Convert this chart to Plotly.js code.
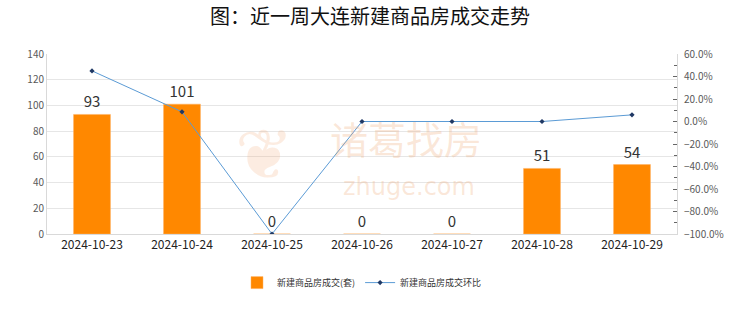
<!DOCTYPE html>
<html><head><meta charset="utf-8">
<script src="https://cdn.plot.ly/plotly-3.0.1.min.js"></script>
<style>html,body{margin:0;padding:0;background:#fff}#c{width:740px;height:312px}</style>
</head><body><div id="c"></div>
<script>
const categories = ['2024-10-23','2024-10-24','2024-10-25','2024-10-26','2024-10-27','2024-10-28','2024-10-29'];
const deals = [93, 101, 0, 0, 0, 51, 54];
const ratio = [0.45, 0.086, -1.0, 0, 0, 0, 0.059];
const barName = '新建商品房成交(套)';
const lineName = '新建商品房成交环比';
const titleText = '图：近一周大连新建商品房成交走势';

const font = 'Noto Sans CJK SC, Roboto, sans-serif';
const traces = [
  {type:'bar', x:categories, y:deals, name:barName, width:0.41,
   marker:{color:'#FF8800', line:{color:'#FFB060', width:0.5}},
   text:deals.map(String), textposition:'outside', cliponaxis:false,
   textfont:{size:15, color:'#333', family:font}},
  {type:'scatter', mode:'lines+markers', x:categories, y:ratio, yaxis:'y2', name:lineName,
   line:{color:'#5B9BD5', width:1}, marker:{symbol:'diamond', size:4, color:'#1F3864'}}
];
const wm = 'rgba(240,170,120,0.28)';
const layout = {
  width:740, height:312,
  margin:{l:47, r:63, t:54, b:78},
  paper_bgcolor:'#fff', plot_bgcolor:'#fff',
  font:{family:font, color:'#333'},
  title:{text:titleText, x:0.5, xanchor:'center', y:0.945, yanchor:'middle', font:{size:20, color:'#111', family:font}},
  xaxis:{type:'category', showgrid:false, showline:true, linecolor:'#d9d9d9', ticks:'', tickfont:{size:12, color:'#222'}},
  yaxis:{range:[0,140], dtick:20, showgrid:true, gridcolor:'#e6e6e6', showline:true, linecolor:'#d9d9d9',
         tickfont:{size:10, color:'#595959'}, zeroline:false, ticks:'', fixedrange:true},
  yaxis2:{overlaying:'y', side:'right', range:[-1,0.6], dtick:0.2, tickformat:'.1%', showgrid:false,
          showline:true, linecolor:'#d9d9d9', ticks:'inside', ticklen:4, tickcolor:'#666',
          minor:{ticks:'inside', ticklen:3, tickcolor:'#666', dtick:0.1},
          ticklabelstandoff:4,
          tickfont:{size:10, color:'#595959'}, zeroline:false},
  legend:{orientation:'h', x:0.5, xanchor:'center', y:-0.27, yanchor:'middle', font:{size:9, color:'#333'}},
  showlegend:true,
  annotations:[
    {xref:'paper', yref:'paper', x:0.57, y:0.535, xanchor:'center', yanchor:'middle', text:'诸葛找房', showarrow:false,
     font:{size:38, color:wm, family:font}},
    {xref:'paper', yref:'paper', x:0.575, y:0.26, xanchor:'center', yanchor:'middle', text:'zhuge.com', showarrow:false,
     font:{size:24, color:wm, family:'DejaVu Sans'}},
    {xref:'paper', yref:'paper', x:0.346, y:0.44, xanchor:'center', yanchor:'middle', text:'❦', showarrow:false,
     font:{size:70, color:'rgba(240,170,120,0.22)', family:'DejaVu Sans'}}
  ]
};
Plotly.newPlot('c', traces, layout, {displayModeBar:false, staticPlot:true});
</script></body></html>
